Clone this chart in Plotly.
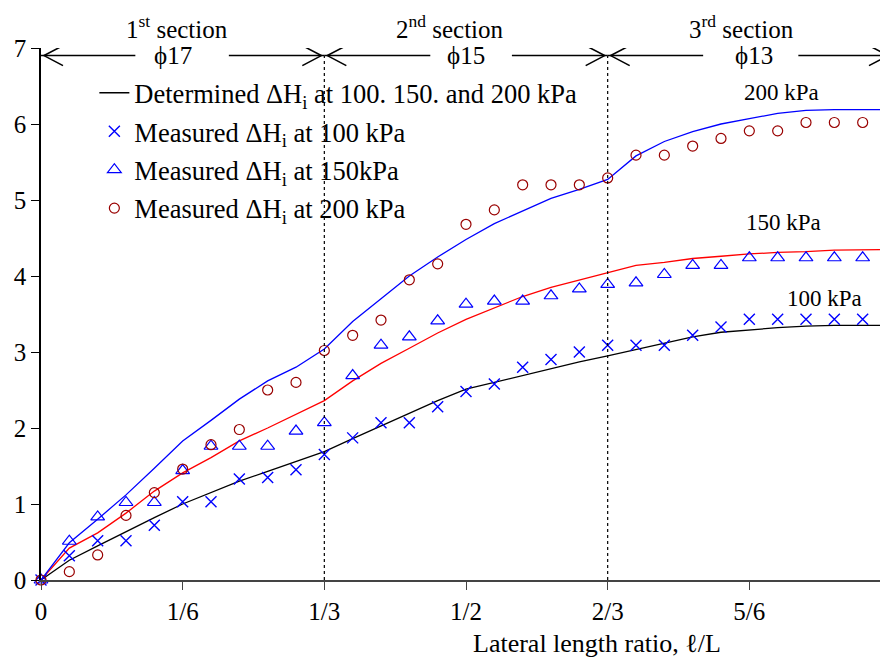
import plotly.graph_objects as go

# ---------------- data ----------------
x_ratio = [i / 30 for i in range(31)]

det_100 = [0, 0.26, 0.45, 0.64, 0.82, 1.0, 1.15, 1.3, 1.43, 1.56, 1.69, 1.86, 2.03, 2.2, 2.36,
           2.51, 2.6, 2.7, 2.79, 2.87, 2.95, 3.03, 3.12, 3.2, 3.26, 3.29, 3.32, 3.34, 3.35, 3.35, 3.35]
det_150 = [0, 0.42, 0.62, 0.88, 1.17, 1.41, 1.61, 1.83, 2.0, 2.18, 2.36, 2.62, 2.85, 3.05, 3.25,
           3.43, 3.58, 3.73, 3.85, 3.95, 4.05, 4.14, 4.18, 4.23, 4.26, 4.29, 4.31, 4.32, 4.34, 4.35, 4.35]
det_200 = [0, 0.49, 0.8, 1.12, 1.47, 1.83, 2.1, 2.38, 2.62, 2.8, 3.04, 3.4, 3.7, 4.0, 4.25,
           4.48, 4.69, 4.86, 5.02, 5.14, 5.27, 5.58, 5.77, 5.9, 6.0, 6.07, 6.14, 6.18, 6.19, 6.19, 6.19]

meas_100 = [0, 0.32, 0.515, 0.515, 0.72, 1.03, 1.03, 1.33, 1.35, 1.45, 1.65, 1.87, 2.07, 2.07, 2.28,
            2.48, 2.58, 2.8, 2.9, 3.0, 3.09, 3.09, 3.09, 3.22, 3.33, 3.43, 3.43, 3.43, 3.43, 3.43, 3.43]
meas_150 = [0, 0.51, 0.83, 1.02, 1.02, 1.44, 1.76, 1.76, 1.76, 1.96, 2.07, 2.69, 3.09, 3.2, 3.41,
            3.63, 3.67, 3.67, 3.74, 3.83, 3.89, 3.91, 4.02, 4.14, 4.14, 4.24, 4.24, 4.24, 4.24, 4.24, 4.24]
meas_200 = [0, 0.11, 0.33, 0.85, 1.15, 1.46, 1.78, 1.98, 2.5, 2.6, 3.02, 3.22, 3.42, 3.95, 4.16,
            4.68, 4.87, 5.2, 5.2, 5.2, 5.29, 5.59, 5.59, 5.71, 5.81, 5.91, 5.91, 6.02, 6.02, 6.02, 6.02]

tick_vals = [0, 1/6, 1/3, 1/2, 2/3, 5/6]
tick_text = ["0", "1/6", "1/3", "1/2", "2/3", "5/6"]

section_bounds = [0, 1/3, 2/3, 1]
section_titles = ["1<sup>st</sup> section", "2<sup>nd</sup> section", "3<sup>rd</sup> section"]
section_title_x = [0.16, 0.481, 0.824]
section_diam = ["\u03d517", "\u03d515", "\u03d513"]
section_diam_x = [0.155, 0.5, 0.839]
section_gap = [(0.111, 0.221), (0.458, 0.554), (0.779, 0.891)]

curve_labels = ["200 kPa", "150 kPa", "100 kPa"]
curve_label_x = [0.871, 0.874, 0.922]
curve_label_y = [6.42, 4.70, 3.70]

FONT = "Liberation Serif"
FS = 25
LFS = 26.5
ARROW_Y = 6.9

fig = go.Figure()

fig.add_trace(go.Scatter(x=x_ratio, y=det_100, mode="lines", line=dict(color="black", width=1.3),
                         name="Determined \u0394H<sub>i</sub> at 100. 150. and 200 kPa",
                         legendgroup="a", legendrank=1))
fig.add_trace(go.Scatter(x=x_ratio, y=det_150, mode="lines", line=dict(color="#ff0000", width=1.3),
                         showlegend=False))
fig.add_trace(go.Scatter(x=x_ratio, y=det_200, mode="lines", line=dict(color="#0000ff", width=1.3),
                         showlegend=False))

fig.add_trace(go.Scatter(x=x_ratio, y=meas_100, mode="markers", cliponaxis=False,
                         marker=dict(symbol="x-thin", size=11, line=dict(color="#0000ff", width=1.4)),
                         name="Measured \u0394H<sub>i</sub> at 100 kPa", legendgroup="b", legendrank=2))
fig.add_trace(go.Scatter(x=x_ratio, y=meas_150, mode="markers", cliponaxis=False,
                         marker=dict(symbol="triangle-up-open", size=12, color="#0000ff",
                                     line=dict(color="#0000ff", width=1.2)),
                         name="Measured \u0394H<sub>i</sub> at 150kPa", legendgroup="c", legendrank=3))
fig.add_trace(go.Scatter(x=x_ratio, y=meas_200, mode="markers", cliponaxis=False,
                         marker=dict(symbol="circle-open", size=10, color="#990000",
                                     line=dict(color="#990000", width=1.2)),
                         name="Measured \u0394H<sub>i</sub> at 200 kPa", legendgroup="d", legendrank=4))

shapes = []
for b in section_bounds[1:-1]:
    shapes.append(dict(type="line", xref="x", yref="y", x0=b, x1=b, y0=0, y1=ARROW_Y,
                       line=dict(color="black", width=1.2, dash="dot")))
for k in range(3):
    left, right = section_bounds[k], section_bounds[k + 1]
    g0, g1 = section_gap[k]
    shapes.append(dict(type="line", xref="x", yref="y", x0=left, x1=g0, y0=ARROW_Y, y1=ARROW_Y,
                       line=dict(color="black", width=1.5)))
    shapes.append(dict(type="line", xref="x", yref="y", x0=g1, x1=right, y0=ARROW_Y, y1=ARROW_Y,
                       line=dict(color="black", width=1.5)))
    shapes.append(dict(type="path", xref="x", yref="y", xsizemode="pixel", ysizemode="pixel",
                       xanchor=left, yanchor=ARROW_Y,
                       path="M 22,10 L 3,0 L 22,-10", line=dict(color="black", width=1.6)))
    shapes.append(dict(type="path", xref="x", yref="y", xsizemode="pixel", ysizemode="pixel",
                       xanchor=right, yanchor=ARROW_Y,
                       path="M -22,10 L -3,0 L -22,-10", line=dict(color="black", width=1.6)))

annotations = []
for k in range(3):
    annotations.append(dict(x=section_title_x[k], y=1.039, xref="x", yref="paper", yanchor="middle",
                            text=section_titles[k], showarrow=False,
                            font=dict(family=FONT, size=FS, color="black")))
    annotations.append(dict(x=section_diam_x[k], y=ARROW_Y, xref="x", yref="y", text=section_diam[k],
                            showarrow=False, font=dict(family=FONT, size=FS, color="black")))
for t, cx, cy in zip(curve_labels, curve_label_x, curve_label_y):
    annotations.append(dict(x=cx, y=cy, xref="x", yref="y", text=t, showarrow=False,
                            font=dict(family=FONT, size=23, color="black")))
# tick label for x = 1, which lies just past the right edge of the picture
annotations.append(dict(x=1.0035, y=0, xref="paper", yref="paper", xanchor="center", yanchor="middle",
                        yshift=-36, text="1", showarrow=False,
                        font=dict(family=FONT, size=FS, color="black")))
annotations.append(dict(x=0.654, y=0, xref="x", yref="paper", xanchor="center", yanchor="middle",
                        yshift=-63, text="Lateral length ratio, \u2113/L", showarrow=False,
                        font=dict(family=FONT, size=26, color="black")))

# the page body adds an 8 px offset, so the figure is 8 px smaller
fig.update_layout(
    width=880, height=655,
    margin=dict(l=33, r=0, t=40, b=83, pad=0),
    paper_bgcolor="white", plot_bgcolor="white",
    font=dict(family=FONT, size=FS, color="black"),
    showlegend=True,
    legend=dict(x=0.063, y=0.9605, xanchor="left", yanchor="top", bgcolor="rgba(0,0,0,0)",
                font=dict(family=FONT, size=LFS, color="black"), tracegroupgap=1,
                borderwidth=0),
    shapes=shapes, annotations=annotations,
)
fig.update_xaxes(range=[0, 0.99647], tickvals=tick_vals, ticktext=tick_text, showgrid=False,
                 zeroline=False, showline=True, linecolor="#444", linewidth=1.5,
                 ticks="outside", ticklen=8, tickcolor="#444", tickwidth=1.2,
                 tickfont=dict(family=FONT, size=FS, color="black"))
fig.update_yaxes(range=[0, 7], dtick=1, showgrid=False, zeroline=False, showline=True,
                 linecolor="black", linewidth=1.5, ticks="outside", ticklen=8, tickcolor="black",
                 tickwidth=1.2, tickfont=dict(family=FONT, size=FS, color="black"))

fig.write_html("out.html")
